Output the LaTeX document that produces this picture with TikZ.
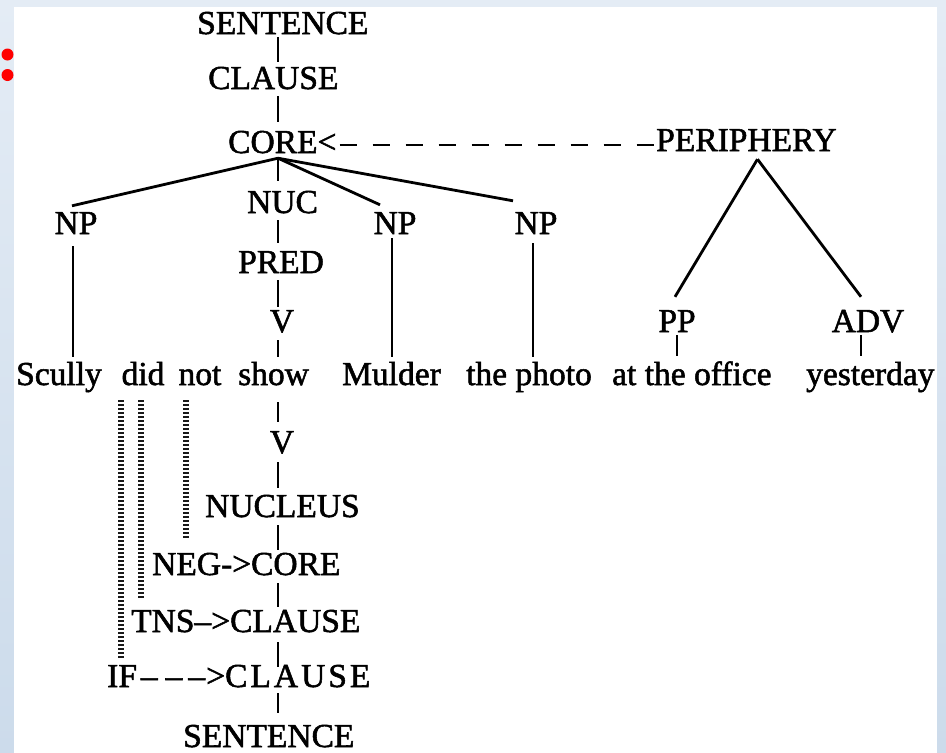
\documentclass[tikz,border=0pt]{standalone}
\usepackage{fontspec}
\setmainfont{Liberation Serif}[FakeBold=1.6]
\definecolor{bgtop}{RGB}{228,236,245}
\definecolor{bgbot}{RGB}{204,219,235}
\begin{document}
\begin{tikzpicture}[x=1pt,y=-1pt,
  lbl/.style={inner sep=0pt, text height=22pt, text depth=0pt, font=\fontsize{33.5}{40}\selectfont},
  tick/.style={line width=2.2pt},
  branch/.style={line width=2.8pt},
  dotline/.style={line width=5.5pt, dash pattern=on 2.2pt off 1.8pt, black!90},
  dashline/.style={line width=2.2pt, dash pattern=on 17pt off 16pt}]
\useasboundingbox (0,0) rectangle (946,753);
\shade[top color=bgtop, bottom color=bgbot] (0,0) rectangle (946,753);
\fill[white] (14,7) rectangle (937,753);
\fill[red] (7.5,54.5) circle (6pt);
\fill[red] (7.5,75) circle (6pt);

\coordinate (spine) at (278,0);

% upper tree
\node[lbl, anchor=base west] (s1) at (197,34) {SENTENCE};
\node[lbl, anchor=base west] (cl1) at (208,89) {CLAUSE};
\node[lbl, anchor=base west] (core) at (228,153) {CORE<};
\node[lbl, anchor=base west] (per) at (656,151) {PERIPHERY};
\node[lbl, anchor=base] (npl) at (76,234) {NP};
\node[lbl, anchor=base west] (nuc) at (247,213) {NUC};
\node[lbl, anchor=base] (npm) at (395,234) {NP};
\node[lbl, anchor=base] (npr) at (536,234) {NP};
\node[lbl, anchor=base west] (pred) at (238,273) {PRED};
\node[lbl, anchor=base] (v1) at (282,332) {V};
\node[lbl, anchor=base] (pp) at (677,332) {PP};
\node[lbl, anchor=base] (adv) at (868,332) {ADV};

% words
\node[lbl, anchor=base west] (scully) at (16,385) {Scully};
\node[lbl, anchor=base] (did) at (143,385) {did};
\node[lbl, anchor=base] (not) at (200,385) {not};
\node[lbl, anchor=base west] (show) at (238,385) {show};
\node[lbl, anchor=base west] (mulder) at (342,385) {Mulder};
\node[lbl, anchor=base west] (photo) at (466,385) {the photo};
\node[lbl, anchor=base west] (office) at (612,385) {at the office};
\node[lbl, anchor=base west] (yest) at (806,385) {yesterday};

% lower (operator) tree
\node[lbl, anchor=base] (v2) at (282,453) {V};
\node[lbl, anchor=base west] (nucleus) at (205,517) {NUCLEUS};
\node[lbl, anchor=base west] (negcore) at (152,575) {NEG->CORE};
\node[lbl, anchor=base west] (tnscl) at (131,632) {TNS–>CLAUSE};
\node[lbl, anchor=base west] (ifcl) at (107,687) {IF\kern4pt–\kern8pt–\kern6pt–\kern1pt>C\kern3pt L\kern3pt A\kern3pt U\kern3pt S\kern3pt E};
\node[lbl, anchor=base west] (s2) at (183,747) {SENTENCE};

% spine ticks
\draw[tick] ([yshift=-3pt]s1.south -| spine) -- ([yshift=5pt]cl1.north -| spine);
\draw[tick] ([yshift=-7pt]cl1.south -| spine) -- ([yshift=9pt]core.north -| spine);
\coordinate (apex) at ([yshift=-5pt]core.south -| spine);
\draw[tick] (apex) -- ([yshift=10pt]nuc.north -| spine);
\draw[tick] ([yshift=-7pt]nuc.south -| spine) -- ([yshift=8pt]pred.north -| spine);
\draw[tick] ([yshift=-7pt]pred.south -| spine) -- ([yshift=3pt]v1.north -| spine);
\draw[tick] ([yshift=-8pt]v1.south -| spine) -- ([yshift=6pt]show.north -| spine);
\draw[tick] ([yshift=-17pt]show.south -| spine) -- ([yshift=9pt]v2.north -| spine);
\draw[tick] ([yshift=-9pt]v2.south -| spine) -- ([yshift=7pt]nucleus.north -| spine);
\draw[tick] ([yshift=-8pt]nucleus.south -| spine) -- ([yshift=3pt]negcore.north -| spine);
\draw[tick] ([yshift=-8pt]negcore.south -| spine) -- ([yshift=3pt]tnscl.north -| spine);
\draw[tick] ([yshift=-10pt]tnscl.south -| spine) -- ([yshift=-2pt]ifcl.north -| spine);
\draw[tick] ([yshift=-6pt]ifcl.south -| spine) -- ([yshift=12pt]s2.north -| spine);

% core branches
\draw[branch] (apex) -- ([xshift=-4pt,yshift=6pt]npl.north);
\draw[branch] (apex) -- ([xshift=-15pt,yshift=7pt]npm.north);
\draw[branch] (apex) -- ([xshift=-23pt,yshift=11pt]npr.north);
\draw[tick] ([xshift=-3pt,yshift=-12pt]npl.south) -- ([xshift=-3pt,yshift=6pt]npl.south |- scully.north);
\draw[tick] ([xshift=-3pt,yshift=-4pt]npm.south) -- ([xshift=-3pt,yshift=6pt]npm.south |- mulder.north);
\draw[tick] ([xshift=-3pt,yshift=-9pt]npr.south) -- ([xshift=-3pt,yshift=6pt]npr.south |- photo.north);

% periphery
\draw[dashline] ([xshift=3pt,yshift=-3pt]core.east) -- ([yshift=-3pt]core.east -| per.west);
\coordinate (papex) at ([xshift=11pt,yshift=-8pt]per.south);
\draw[branch] (papex) -- ([xshift=-2pt,yshift=13pt]pp.north);
\draw[branch] (papex) -- ([xshift=-7pt,yshift=13pt]adv.north);
\draw[tick] ([yshift=-3pt]pp.south) -- ([yshift=7pt]pp.south |- office.north);
\draw[tick] ([xshift=-7pt,yshift=-3pt]adv.south) -- ([xshift=-7pt,yshift=7pt]adv.south |- yest.north);

% operator scope lines
\draw[dotline] ([xshift=-22pt,yshift=-15pt]did.south) -- ([xshift=-22pt,yshift=5pt]did.south |- ifcl.north);
\draw[dotline] ([xshift=-2pt,yshift=-15pt]did.south) -- ([xshift=-2pt,yshift=10pt]did.south |- tnscl.north);
\draw[dotline] ([xshift=-14pt,yshift=-15pt]not.south) -- ([xshift=-14pt,yshift=13pt]not.south |- negcore.north);
\end{tikzpicture}
\end{document}
